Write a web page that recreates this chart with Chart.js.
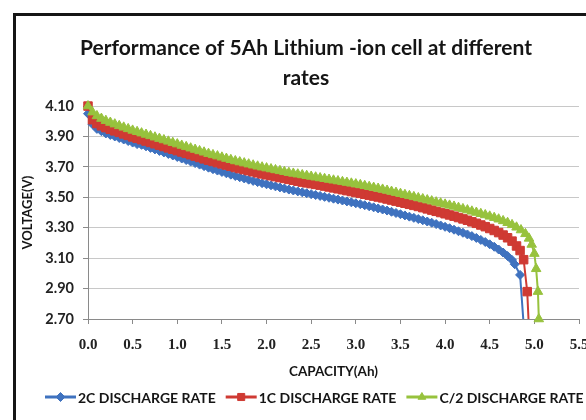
<!DOCTYPE html>
<html>
<head>
<meta charset="utf-8">
<script src="https://cdn.jsdelivr.net/npm/chart.js@4.4.0/dist/chart.umd.min.js"></script>
<style>
  html, body { margin: 0; padding: 0; background: #fff; overflow: hidden; }
  #wrap { position: relative; width: 586px; height: 420px; overflow: hidden; }
  #frame { position: absolute; left: 13px; top: 13px; width: 620px; height: 440px; border: 3px solid #151515; }
  #chart { position: absolute; left: 0; top: 0; }
</style>
</head>
<body>
<div id="wrap">
  <div id="frame"></div>
  <canvas id="chart" width="596" height="420"></canvas>
</div>
<script>
// capacity (Ah) shared by the main part of every curve
const capacity = [
  0.00, 0.05, 0.10, 0.15, 0.20, 0.25, 0.30, 0.35, 0.40, 0.45,
  0.50, 0.55, 0.60, 0.65, 0.70, 0.75, 0.80, 0.85, 0.90, 0.95,
  1.00, 1.05, 1.10, 1.15, 1.20, 1.25, 1.30, 1.35, 1.40, 1.45,
  1.50, 1.55, 1.60, 1.65, 1.70, 1.75, 1.80, 1.85, 1.90, 1.95,
  2.00, 2.05, 2.10, 2.15, 2.20, 2.25, 2.30, 2.35, 2.40, 2.45,
  2.50, 2.55, 2.60, 2.65, 2.70, 2.75, 2.80, 2.85, 2.90, 2.95,
  3.00, 3.05, 3.10, 3.15, 3.20, 3.25, 3.30, 3.35, 3.40, 3.45,
  3.50, 3.55, 3.60, 3.65, 3.70, 3.75, 3.80, 3.85, 3.90, 3.95,
  4.00, 4.05, 4.10, 4.15, 4.20, 4.25, 4.30, 4.35, 4.40, 4.45,
  4.50, 4.55, 4.60, 4.65, 4.70, 4.75
];

// voltage (V) at 2C
const volt2C = [
  4.05, 3.98, 3.95, 3.935, 3.92, 3.91, 3.90, 3.89, 3.88, 3.87,
  3.86, 3.85, 3.845, 3.835, 3.825, 3.815, 3.805, 3.795, 3.785, 3.775,
  3.765, 3.755, 3.745, 3.735, 3.725, 3.715, 3.705, 3.695, 3.685, 3.676,
  3.667, 3.658, 3.649, 3.640, 3.632, 3.624, 3.616, 3.608, 3.600, 3.593,
  3.586, 3.579, 3.572, 3.565, 3.558, 3.551, 3.545, 3.539, 3.533, 3.527,
  3.521, 3.515, 3.509, 3.503, 3.497, 3.491, 3.485, 3.479, 3.473, 3.467,
  3.461, 3.455, 3.448, 3.441, 3.434, 3.427, 3.420, 3.413, 3.405, 3.397,
  3.389, 3.381, 3.373, 3.365, 3.357, 3.349, 3.341, 3.333, 3.324, 3.315,
  3.306, 3.297, 3.287, 3.277, 3.267, 3.256, 3.245, 3.233, 3.220, 3.206,
  3.191, 3.175, 3.157, 3.137, 3.114, 3.088
];

// voltage (V) at 1C
const volt1C = [
  4.10, 4.01, 3.985, 3.97, 3.958, 3.947, 3.937, 3.927, 3.917, 3.907,
  3.897, 3.888, 3.879, 3.870, 3.861, 3.852, 3.843, 3.834, 3.825, 3.816,
  3.807, 3.798, 3.789, 3.780, 3.771, 3.762, 3.753, 3.744, 3.736, 3.728,
  3.720, 3.712, 3.704, 3.696, 3.689, 3.682, 3.675, 3.668, 3.661, 3.654,
  3.648, 3.642, 3.636, 3.630, 3.624, 3.618, 3.612, 3.606, 3.600, 3.595,
  3.590, 3.585, 3.580, 3.574, 3.568, 3.562, 3.556, 3.550, 3.544, 3.538,
  3.532, 3.526, 3.520, 3.514, 3.508, 3.502, 3.496, 3.489, 3.482, 3.475,
  3.468, 3.461, 3.454, 3.447, 3.440, 3.432, 3.424, 3.416, 3.408, 3.400,
  3.392, 3.384, 3.376, 3.367, 3.358, 3.349, 3.339, 3.329, 3.318, 3.307,
  3.295, 3.282, 3.268, 3.252, 3.234, 3.212
];

// voltage (V) at C/2
const voltC2 = [
  4.10, 4.06, 4.035, 4.018, 4.004, 3.992, 3.981, 3.970, 3.960, 3.950,
  3.940, 3.931, 3.922, 3.913, 3.904, 3.895, 3.886, 3.877, 3.868, 3.859,
  3.850, 3.841, 3.832, 3.823, 3.814, 3.805, 3.796, 3.787, 3.779, 3.771,
  3.763, 3.755, 3.747, 3.739, 3.732, 3.725, 3.718, 3.711, 3.704, 3.698,
  3.692, 3.686, 3.680, 3.674, 3.668, 3.662, 3.657, 3.652, 3.647, 3.642,
  3.637, 3.632, 3.627, 3.622, 3.617, 3.612, 3.607, 3.602, 3.597, 3.592,
  3.587, 3.582, 3.576, 3.570, 3.564, 3.558, 3.552, 3.545, 3.538, 3.531,
  3.524, 3.517, 3.510, 3.503, 3.496, 3.489, 3.482, 3.475, 3.468, 3.461,
  3.454, 3.447, 3.440, 3.432, 3.424, 3.416, 3.408, 3.400, 3.392, 3.384,
  3.375, 3.366, 3.356, 3.345, 3.333, 3.319
];

// end of discharge (knee) for each rate
const tailCap2C = [4.78, 4.84, 4.90];
const tailVolt2C = [3.06, 2.99, 2.50];
const tailCap1C = [4.80, 4.84, 4.88, 4.92, 4.95];
const tailVolt1C = [3.18, 3.15, 3.09, 2.88, 2.50];
const tailCapC2 = [4.80, 4.85, 4.90, 4.94, 4.97, 5.00, 5.02, 5.04, 5.05];
const tailVoltC2 = [3.303, 3.285, 3.26, 3.23, 3.19, 3.13, 3.03, 2.88, 2.70];

const seriesNames = ['2C DISCHARGE RATE', '1C DISCHARGE RATE', 'C/2 DISCHARGE RATE'];
const xTicks = [0, 0.5, 1.0, 1.5, 2.0, 2.5, 3.0, 3.5, 4.0, 4.5, 5.0, 5.5];
const yTicks = [2.70, 2.90, 3.10, 3.30, 3.50, 3.70, 3.90, 4.10];

const colors = ['#3f72bf', '#cf3a33', '#97c23d'];
const markers = ['rectRot', 'rect', 'triangle'];
const radii = [4.5, 6, 5.5];

function toPoints(xs, ys, tx, ty) {
  const pts = xs.map((x, i) => ({x: x, y: ys[i]}));
  tx.forEach((x, i) => pts.push({x: x, y: ty[i]}));
  return pts;
}

const curves = [
  toPoints(capacity, volt2C, tailCap2C, tailVolt2C),
  toPoints(capacity, volt1C, tailCap1C, tailVolt1C),
  toPoints(capacity, voltC2, tailCapC2, tailVoltC2)
];

const LABEL_FONT = 'Lato, "DejaVu Sans", sans-serif';

// legend as line + marker, like the spreadsheet one
const bottomLegend = {
  id: 'bottomLegend',
  afterDraw(chart) {
    const ctx = chart.ctx;
    ctx.save();
    ctx.font = 'bold 14px ' + LABEL_FONT;
    ctx.textBaseline = 'middle';
    let x = 45;
    const y = 397;
    chart.data.datasets.forEach((ds, i) => {
      ctx.strokeStyle = ds.borderColor;
      ctx.lineWidth = 3;
      ctx.beginPath();
      ctx.moveTo(x, y);
      ctx.lineTo(x + 31, y);
      ctx.stroke();
      ctx.fillStyle = ds.pointBackgroundColor;
      ctx.strokeStyle = ds.pointBorderColor;
      ctx.lineWidth = 1;
      Chart.helpers.drawPoint(ctx, {pointStyle: ds.pointStyle, radius: i === 1 ? 5 : 4.5, rotation: 0, borderWidth: 1}, x + 15.5, y);
      ctx.fillStyle = '#151515';
      ctx.fillText(ds.label, x + 33, y + 1);
      x += 33 + ctx.measureText(ds.label).width + 10;
    });
    ctx.restore();
  }
};

const datasets = curves.map((pts, i) => ({
  label: seriesNames[i],
  data: pts,
  showLine: true,
  borderColor: colors[i],
  borderWidth: 2,
  pointStyle: markers[i],
  pointRadius: radii[i],
  pointBackgroundColor: colors[i],
  pointBorderColor: colors[i],
  pointBorderWidth: 1,
  order: 2 - i,
  clip: i === 2 ? 10 : {left: 10, top: 10, right: 10, bottom: 0}
}));

new Chart(document.getElementById('chart'), {
  type: 'scatter',
  data: {datasets: datasets},
  plugins: [bottomLegend],
  options: {
    responsive: false,
    animation: false,
    events: [],
    layout: {padding: {left: 16, right: 0, top: 33, bottom: 40}},
    plugins: {
      legend: {display: false},
      tooltip: {enabled: false},
      title: {
        display: true,
        text: ['Performance of 5Ah Lithium -ion cell at different', 'rates'],
        color: '#151515',
        font: {family: LABEL_FONT, weight: 'bold', size: 21, lineHeight: 1.43},
        padding: {top: 0, bottom: 13}
      }
    },
    scales: {
      x: {
        type: 'linear',
        min: 0,
        max: 5.5,
        afterBuildTicks: s => { s.ticks = xTicks.map(v => ({value: v})); },
        afterFit: s => { s.height = 61; s.paddingRight = 17; },
        ticks: {
          padding: 12,
          color: '#222',
          font: {family: '"Liberation Serif", serif', weight: 'bold', size: 15},
          callback: v => v.toFixed(1)
        },
        grid: {drawOnChartArea: false, tickLength: 5, color: '#8a8a8a'},
        border: {color: '#8a8a8a'},
        title: {
          display: true,
          text: 'CAPACITY(Ah)',
          color: '#151515',
          font: {family: LABEL_FONT, weight: 'bold', size: 13.5},
          padding: {top: 0, bottom: 0}
        }
      },
      y: {
        type: 'linear',
        min: 2.7,
        max: 4.1,
        afterBuildTicks: s => { s.ticks = yTicks.map(v => ({value: v})); },
        afterFit: s => { s.width = 72; },
        ticks: {
          padding: 9,
          color: '#222',
          font: {family: LABEL_FONT, weight: 'bold', size: 14.5},
          callback: v => v.toFixed(2)
        },
        grid: {color: '#c8c8c8', tickLength: 5, tickColor: '#8a8a8a'},
        border: {color: '#8a8a8a'},
        title: {
          display: true,
          text: 'VOLTAGE(V)',
          color: '#151515',
          font: {family: LABEL_FONT, weight: 'bold', size: 13},
          padding: {top: 4, bottom: 0}
        }
      }
    }
  }
});
</script>
</body>
</html>
